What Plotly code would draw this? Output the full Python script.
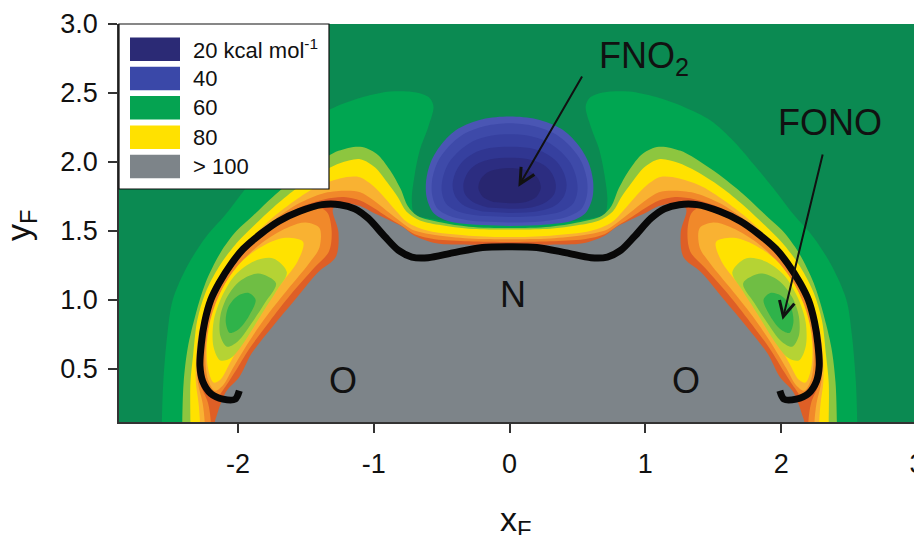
import plotly.graph_objects as go

# ---------------- axes ----------------
X_RANGE = [-2.876, 3.0]
Y_RANGE = [0.114, 3.0]
X_TICKS = [-2, -1, 0, 1, 2, 3]
X_TICKTEXT = ["-2", "-1", "0", "1", "2", "3"]
Y_TICKS = [0.5, 1.0, 1.5, 2.0, 2.5, 3.0]
Y_TICKTEXT = ["0.5", "1.0", "1.5", "2.0", "2.5", "3.0"]
X_TITLE = "x<sub>F</sub>"
Y_TITLE = "y<sub>F</sub>"

# ---------------- legend ----------------
LEGEND_LABELS = ["20 kcal mol<sup>-1</sup>", "40", "60", "80", "> 100"]
LEGEND_COLORS = ["#2b2a75", "#3a48a8", "#05a351", "#ffe100", "#7d8489"]

# ---------------- energy bands (right half) ----------------
# outer boundary of each band, from the lower edge up and round to x = 0
BAND_55 = [(2.56, 0.114), (2.55, 0.40), (2.52, 0.75), (2.48, 1.00), (2.37, 1.25), (2.24, 1.45),
           (2.09, 1.62), (1.95, 1.80), (1.80, 1.98), (1.65, 2.15), (1.48, 2.30), (1.28, 2.40),
           (1.08, 2.47), (0.88, 2.51), (0.74, 2.51), (0.64, 2.49), (0.585, 2.46), (0.56, 2.40),
           (0.60, 2.25), (0.66, 2.09), (0.70, 1.90), (0.72, 1.72), (0.70, 1.62), (0.60, 1.59),
           (0.45, 1.57), (0.25, 1.55), (0.0, 1.545)]
BAND_65 = [(2.41, 0.114), (2.40, 0.40), (2.37, 0.65), (2.31, 0.90), (2.24, 1.12), (2.13, 1.34),
           (2.01, 1.50), (1.89, 1.61), (1.74, 1.75), (1.58, 1.88), (1.42, 1.99), (1.26, 2.08),
           (1.10, 2.11), (0.98, 2.06), (0.88, 1.94), (0.80, 1.80), (0.75, 1.68), (0.68, 1.61),
           (0.50, 1.56), (0.30, 1.53), (0.0, 1.52)]
BAND_70 = [(2.35, 0.114), (2.35, 0.40), (2.33, 0.60), (2.30, 0.85), (2.24, 1.05), (2.14, 1.24),
           (2.02, 1.40), (1.88, 1.54), (1.74, 1.67), (1.58, 1.80), (1.43, 1.90), (1.25, 1.99),
           (1.10, 2.02), (0.99, 1.96), (0.90, 1.85), (0.82, 1.74), (0.76, 1.64), (0.66, 1.575),
           (0.50, 1.54), (0.30, 1.515), (0.0, 1.51)]
BAND_80 = [(2.28, 0.114), (2.29, 0.25), (2.31, 0.40), (2.31, 0.55), (2.29, 0.75), (2.235, 0.95),
           (2.14, 1.15), (2.02, 1.32), (1.88, 1.47), (1.74, 1.60), (1.58, 1.72), (1.42, 1.82),
           (1.25, 1.88), (1.11, 1.89), (1.01, 1.83), (0.92, 1.74), (0.84, 1.65), (0.75, 1.56),
           (0.60, 1.50), (0.30, 1.465), (0.0, 1.455)]
BAND_90 = [(2.245, 0.114), (2.26, 0.25), (2.295, 0.40), (2.30, 0.55), (2.28, 0.75), (2.225, 0.95),
           (2.13, 1.14), (2.01, 1.31), (1.87, 1.46), (1.72, 1.59), (1.55, 1.70), (1.38, 1.77),
           (1.22, 1.79), (1.10, 1.78), (1.00, 1.72), (0.91, 1.65), (0.82, 1.58), (0.72, 1.51),
           (0.55, 1.47), (0.30, 1.445), (0.0, 1.44)]
BAND_100 = [(2.20, 0.114), (2.22, 0.25), (2.28, 0.40), (2.29, 0.55), (2.27, 0.75), (2.215, 0.95),
            (2.12, 1.13), (2.00, 1.30), (1.86, 1.45), (1.70, 1.58), (1.52, 1.68), (1.36, 1.73),
            (1.22, 1.745), (1.10, 1.72), (1.00, 1.665), (0.90, 1.60), (0.80, 1.54), (0.70, 1.475),
            (0.55, 1.44), (0.30, 1.425), (0.0, 1.42)]
BAND_COLORS = ["#00a651", "#8dc63f", "#ffe200", "#f9b232", "#f1892a", "#de5f26"]

# region above 100 kcal/mol (right half)
GREY_REGION = [(2.17, 0.114), (2.16, 0.15), (2.09, 0.33), (1.99, 0.44), (1.90, 0.61), (1.75, 0.80),
               (1.58, 1.00), (1.41, 1.20), (1.28, 1.31), (1.26, 1.49), (1.30, 1.66), (1.22, 1.70),
               (1.10, 1.68), (1.00, 1.63), (0.90, 1.585), (0.79, 1.53), (0.70, 1.465), (0.54, 1.41),
               (0.30, 1.40), (0.0, 1.40)]
GREY_COLOR = "#7d8489"

# FONO basin (right side closed contours, mirrored to the left)
FONO_90 = [(1.34, 1.63), (1.31, 1.50), (1.33, 1.35), (1.44, 1.23), (1.61, 1.04), (1.77, 0.84),
           (1.92, 0.64), (2.02, 0.48), (2.10, 0.36), (2.15, 0.30), (2.21, 0.33), (2.25, 0.45),
           (2.27, 0.60), (2.25, 0.80), (2.19, 0.98), (2.10, 1.15), (1.98, 1.31), (1.84, 1.45),
           (1.68, 1.56), (1.50, 1.64), (1.40, 1.67)]
FONO_80 = [(1.40, 1.52), (1.40, 1.38), (1.48, 1.26), (1.63, 1.08), (1.79, 0.88), (1.93, 0.68),
           (2.04, 0.50), (2.11, 0.38), (2.17, 0.34), (2.22, 0.42), (2.24, 0.58), (2.22, 0.78),
           (2.17, 0.96), (2.08, 1.14), (1.95, 1.30), (1.80, 1.43), (1.62, 1.53), (1.50, 1.56)]
FONO_70 = [(1.52, 1.42), (1.56, 1.28), (1.68, 1.12), (1.83, 0.92), (1.96, 0.72), (2.06, 0.54),
           (2.13, 0.42), (2.18, 0.40), (2.22, 0.50), (2.23, 0.65), (2.21, 0.82), (2.16, 0.98),
           (2.08, 1.14), (1.96, 1.29), (1.80, 1.40), (1.65, 1.45)]
FONO_65 = [(1.64, 1.20), (1.72, 1.06), (1.83, 0.89), (1.95, 0.70), (2.05, 0.58), (2.13, 0.56),
           (2.18, 0.66), (2.18, 0.84), (2.12, 1.02), (2.02, 1.18), (1.88, 1.28), (1.74, 1.30)]
FONO_60 = [(1.72, 1.12), (1.80, 0.98), (1.90, 0.83), (2.00, 0.70), (2.08, 0.66), (2.13, 0.74),
           (2.13, 0.88), (2.08, 1.02), (1.98, 1.14), (1.85, 1.19)]
FONO_55 = [(1.87, 1.00), (1.92, 0.88), (1.99, 0.79), (2.06, 0.76), (2.09, 0.84), (2.07, 0.95),
           (2.00, 1.03), (1.92, 1.05)]
FONO_COLORS = ["#f1892a", "#f9b232", "#ffe200", "#b5d334", "#6fbe44", "#2fb34a"]

# FNO2 well (right half, from bottom at x=0 round to top at x=0)
WELL_40 = [(0.0, 1.535), (0.25, 1.545), (0.45, 1.57), (0.56, 1.63), (0.61, 1.74), (0.615, 1.86),
           (0.58, 2.00), (0.50, 2.13), (0.38, 2.24), (0.20, 2.31), (0.0, 2.33)]
WELL_35 = [(0.0, 1.56), (0.25, 1.57), (0.42, 1.60), (0.53, 1.66), (0.57, 1.76), (0.57, 1.87),
           (0.53, 2.00), (0.45, 2.11), (0.34, 2.20), (0.18, 2.26), (0.0, 2.28)]
WELL_30 = [(0.0, 1.60), (0.22, 1.61), (0.38, 1.64), (0.47, 1.70), (0.50, 1.79), (0.49, 1.89),
           (0.45, 1.99), (0.37, 2.08), (0.27, 2.15), (0.14, 2.19), (0.0, 2.20)]
WELL_25 = [(0.0, 1.63), (0.20, 1.64), (0.33, 1.68), (0.40, 1.75), (0.42, 1.83), (0.40, 1.92),
           (0.35, 2.00), (0.27, 2.06), (0.15, 2.10), (0.0, 2.11)]
WELL_20 = [(0.0, 1.66), (0.16, 1.67), (0.27, 1.71), (0.33, 1.77), (0.34, 1.84), (0.31, 1.92),
           (0.25, 1.98), (0.14, 2.02), (0.0, 2.03)]
WELL_15 = [(0.0, 1.70), (0.12, 1.71), (0.20, 1.75), (0.23, 1.81), (0.21, 1.88), (0.15, 1.93),
           (0.07, 1.95), (0.0, 1.955)]
WELL_COLORS = ["#4a56b4", "#3e4aa9", "#36409f", "#303691", "#2c2d81", "#282670"]

# minimum energy path (right half, from x=0 outwards)
PATH = [(0.0, 1.385), (0.20, 1.38), (0.42, 1.34), (0.60, 1.305), (0.72, 1.31), (0.82, 1.36),
        (0.92, 1.46), (1.04, 1.59), (1.14, 1.66), (1.25, 1.69), (1.38, 1.69), (1.55, 1.64),
        (1.70, 1.57), (1.83, 1.48), (1.96, 1.37), (2.05, 1.26), (2.14, 1.12), (2.20, 1.00),
        (2.245, 0.84), (2.27, 0.68), (2.28, 0.52), (2.26, 0.41), (2.20, 0.32), (2.11, 0.28),
        (2.02, 0.28), (1.99, 0.34)]

# labels and arrows
LABELS = [("FNO<sub>2</sub>", 0.646, 2.756, "left"), ("N", 0.028, 1.037, "center"),
          ("O", 1.302, 0.413, "center"), ("O", -1.225, 0.413, "center")]
FONO_LABEL = ("FONO", 2.362, 2.284)
FONO_ARROW_HEAD = (2.01, 0.855)
FNO2_ARROW = ((0.54, 2.63), (0.065, 1.82))

BG_COLOR = "#0b8a52"
FONT = "Liberation Sans, Arial, Helvetica, sans-serif"
Y_FLOOR = 0.0


def mirror_band(right):
    pts = [(right[0][0], Y_FLOOR)] + right
    left = [(-x, y) for (x, y) in reversed(pts[:-1])]
    full = pts + left
    return [p[0] for p in full], [p[1] for p in full]


def mirror_closed(right):
    full = right + [(-x, y) for (x, y) in reversed(right[1:-1])]
    return [p[0] for p in full], [p[1] for p in full]


def both_sides(loop):
    xs = [p[0] for p in loop] + [loop[0][0], None] + [-p[0] for p in loop] + [-loop[0][0]]
    ys = [p[1] for p in loop] + [loop[0][1], None] + [p[1] for p in loop] + [loop[0][1]]
    return xs, ys


def filled(xs, ys, color):
    return go.Scatter(x=xs, y=ys, mode="lines", fill="toself", fillcolor=color,
                      line=dict(width=0, color=color, shape="spline", smoothing=0.9),
                      hoverinfo="skip", showlegend=False)


fig = go.Figure()

for band, col in zip([BAND_55, BAND_65, BAND_70, BAND_80, BAND_90, BAND_100], BAND_COLORS):
    xs, ys = mirror_band(band)
    fig.add_trace(filled(xs, ys, col))

for loop, col in zip([FONO_90, FONO_80, FONO_70, FONO_65, FONO_60, FONO_55], FONO_COLORS):
    xs, ys = both_sides(loop)
    fig.add_trace(filled(xs, ys, col))

xs, ys = mirror_band(GREY_REGION)
fig.add_trace(filled(xs, ys, GREY_COLOR))

for well, col in zip([WELL_40, WELL_35, WELL_30, WELL_25, WELL_20, WELL_15], WELL_COLORS):
    xs, ys = mirror_closed(well)
    fig.add_trace(filled(xs, ys, col))

path_full = [(-x, y) for (x, y) in reversed(PATH[1:])] + PATH
fig.add_trace(go.Scatter(x=[p[0] for p in path_full], y=[p[1] for p in path_full], mode="lines",
                         line=dict(color="#080808", width=7, shape="spline", smoothing=0.8),
                         hoverinfo="skip", showlegend=False))

label_font = dict(family=FONT, size=36, color="#111111")
for text, x, y, anchor in LABELS:
    fig.add_annotation(x=x, y=y, text=text, showarrow=False, xanchor=anchor, yanchor="middle",
                       font=label_font)

# FONO label carries its own arrow
fig.add_annotation(x=FONO_ARROW_HEAD[0], y=FONO_ARROW_HEAD[1], ax=FONO_LABEL[1], ay=FONO_LABEL[2],
                   axref="x", ayref="y", xref="x", yref="y", text=FONO_LABEL[0], font=label_font,
                   showarrow=True, arrowhead=5, arrowsize=1.5, arrowwidth=2, arrowcolor="#111111",
                   standoff=0, startstandoff=10)

(tx, ty), (hx, hy) = FNO2_ARROW
fig.add_annotation(x=hx, y=hy, ax=tx, ay=ty, axref="x", ayref="y", xref="x", yref="y",
                   text="", showarrow=True, arrowhead=5, arrowsize=1.5, arrowwidth=2,
                   arrowcolor="#111111", standoff=0)

# ---- legend box and axis titles, placed relative to the plot area (pixel units) ----
PLOT_L, PLOT_T, PLOT_W, PLOT_H = 119, 24, 798, 398
PAGE_OFFSET = 8  # default body margin of the page that holds the figure


def pxx(px):
    return (px - PLOT_L) / PLOT_W


def pxy(py):
    return 1 - (py - PLOT_T) / PLOT_H


fig.add_shape(type="rect", xref="paper", yref="paper", x0=pxx(119), x1=pxx(329), y0=pxy(189), y1=pxy(24),
              line=dict(color="#111111", width=1.2), fillcolor="white", layer="above")
for i, (lab, col) in enumerate(zip(LEGEND_LABELS, LEGEND_COLORS)):
    top = 37.5 + i * 29.3
    fig.add_shape(type="rect", xref="paper", yref="paper", x0=pxx(130), x1=pxx(180),
                  y0=pxy(top + 23.5), y1=pxy(top), line=dict(width=0), fillcolor=col, layer="above")
    fig.add_annotation(xref="paper", yref="paper", x=pxx(191), y=pxy(top + 11.75), text=lab,
                       showarrow=False, xanchor="left", yanchor="middle",
                       font=dict(family=FONT, size=22, color="#111111"))

title_font = dict(family=FONT, size=34, color="#111111")
fig.add_annotation(xref="paper", yref="paper", x=pxx(516), y=pxy(498), text=X_TITLE, showarrow=False,
                   xanchor="center", yanchor="top", font=title_font)
fig.add_annotation(xref="paper", yref="paper", x=pxx(20), y=pxy(225), text=Y_TITLE, showarrow=False,
                   xanchor="center", yanchor="middle", textangle=-90, font=title_font)

axis_common = dict(showgrid=False, zeroline=False, showline=True, linecolor="#333333", linewidth=1.5,
                   ticks="outside", ticklen=9, tickwidth=1.5, tickcolor="#333333", automargin=False,
                   ticklabeloverflow="allow",
                   tickfont=dict(family=FONT, size=27, color="#111111"))

fig.update_layout(
    width=922 - PAGE_OFFSET, height=535 - PAGE_OFFSET,
    margin=dict(l=PLOT_L - PAGE_OFFSET, r=5, t=PLOT_T - PAGE_OFFSET, b=113, pad=0),
    plot_bgcolor=BG_COLOR, paper_bgcolor="white",
    xaxis=dict(range=X_RANGE, tickvals=X_TICKS, ticktext=X_TICKTEXT, ticklabelstandoff=8, **axis_common),
    yaxis=dict(range=Y_RANGE, tickvals=Y_TICKS, ticktext=Y_TICKTEXT, ticklabelstandoff=5, **axis_common),
)

fig.write_html("out.html")
